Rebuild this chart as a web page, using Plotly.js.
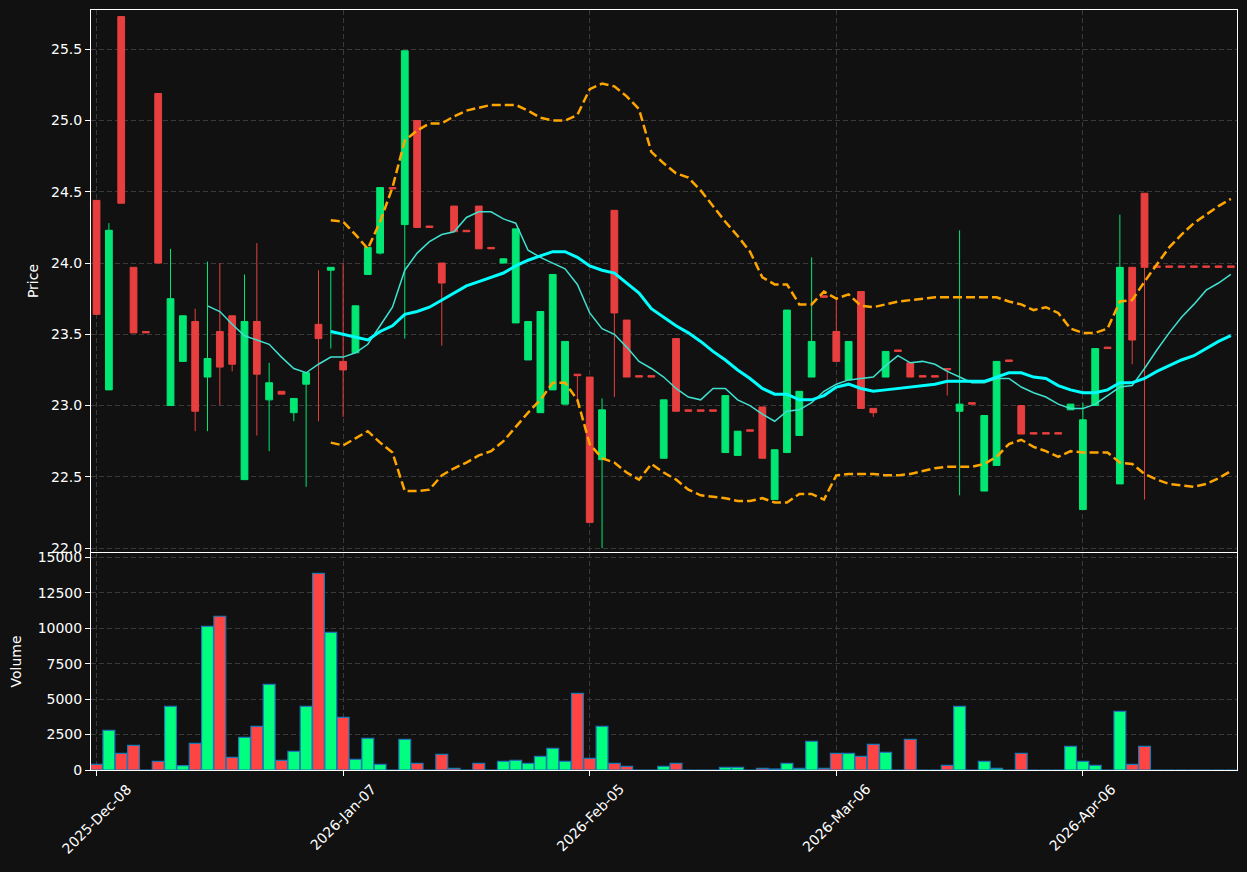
<!DOCTYPE html>
<html>
<head>
<meta charset="utf-8">
<script src="https://cdn.plot.ly/plotly-3.0.1.min.js"></script>
<style>html,body{margin:0;padding:0;background:#111111;}</style>
</head>
<body>
<div id="chart" style="width:1247px;height:872px;"></div>
<script>
const dates = [
  '2025-12-08','2025-12-09','2025-12-10','2025-12-11','2025-12-12',
  '2025-12-15','2025-12-16','2025-12-17','2025-12-18','2025-12-19',
  '2025-12-22','2025-12-23','2025-12-24','2025-12-26','2025-12-29',
  '2025-12-30','2025-12-31','2026-01-02','2026-01-05','2026-01-06',
  '2026-01-07','2026-01-08','2026-01-09','2026-01-12','2026-01-13',
  '2026-01-14','2026-01-15','2026-01-16','2026-01-20','2026-01-21',
  '2026-01-22','2026-01-23','2026-01-26','2026-01-27','2026-01-28',
  '2026-01-29','2026-01-30','2026-02-02','2026-02-03','2026-02-04',
  '2026-02-05','2026-02-06','2026-02-09','2026-02-10','2026-02-11',
  '2026-02-12','2026-02-13','2026-02-17','2026-02-18','2026-02-19',
  '2026-02-20','2026-02-23','2026-02-24','2026-02-25','2026-02-26',
  '2026-02-27','2026-03-02','2026-03-03','2026-03-04','2026-03-05',
  '2026-03-06','2026-03-09','2026-03-10','2026-03-11','2026-03-12',
  '2026-03-13','2026-03-16','2026-03-17','2026-03-18','2026-03-19',
  '2026-03-20','2026-03-23','2026-03-24','2026-03-25','2026-03-26',
  '2026-03-27','2026-03-30','2026-03-31','2026-04-01','2026-04-02',
  '2026-04-06','2026-04-07','2026-04-08','2026-04-09','2026-04-10',
  '2026-04-13','2026-04-14','2026-04-15','2026-04-16','2026-04-17',
  '2026-04-20','2026-04-21','2026-04-22'
];

const openPrices = [
  24.44, 23.11, 25.73, 23.97, 23.52, 25.19, 23.00, 23.31, 23.59, 23.20,
  23.52, 23.63, 22.48, 23.59, 23.04, 23.10, 22.95, 23.15, 23.57, 23.95,
  23.31, 23.37, 23.92, 24.07, 24.53, 24.27, 25.00, 24.26, 24.00, 24.40,
  24.23, 24.40, 24.11, 24.00, 23.58, 23.32, 22.95, 23.11, 23.01, 23.22,
  23.20, 22.62, 24.37, 23.60, 23.21, 23.21, 22.63, 23.47, 22.97, 22.97,
  22.97, 22.67, 22.65, 22.83, 22.99, 22.34, 22.67, 22.79, 23.20, 23.77,
  23.52, 23.18, 23.80, 22.98, 23.20, 23.39, 23.30, 23.21, 23.21, 23.26,
  22.96, 23.02, 22.40, 22.58, 23.32, 23.00, 22.81, 22.81, 22.81, 22.97,
  22.27, 23.00, 23.41, 22.45, 23.97, 24.49, 23.98, 23.98, 23.98, 23.98,
  23.98, 23.98, 23.98
];
const highPrices = [
  24.44, 24.28, 25.73, 23.97, 23.52, 25.19, 24.10, 23.63, 23.68, 24.01,
  24.00, 23.63, 23.92, 24.14, 23.30, 23.10, 23.05, 23.23, 23.95, 23.97,
  24.00, 23.70, 24.11, 24.53, 24.53, 25.49, 25.00, 24.26, 24.00, 24.40,
  24.23, 24.40, 24.11, 24.03, 24.24, 23.59, 23.66, 23.92, 23.45, 23.22,
  23.20, 23.05, 24.37, 23.60, 23.21, 23.21, 23.04, 23.47, 22.97, 22.97,
  22.97, 23.07, 22.82, 22.83, 22.99, 22.69, 23.67, 23.10, 24.04, 23.77,
  23.76, 23.45, 23.80, 22.98, 23.38, 23.39, 23.30, 23.21, 23.21, 23.26,
  24.23, 23.02, 22.93, 23.31, 23.32, 23.00, 22.81, 22.81, 22.81, 23.01,
  23.02, 23.40, 23.41, 24.34, 23.97, 24.49, 23.98, 23.98, 23.98, 23.98,
  23.98, 23.98, 23.98
];
const lowPrices = [
  23.64, 23.11, 24.42, 23.51, 23.51, 24.00, 23.00, 23.31, 22.82, 22.82,
  23.00, 23.24, 22.48, 22.79, 22.68, 23.08, 22.89, 22.43, 22.89, 23.40,
  22.92, 23.37, 23.92, 24.06, 24.52, 23.47, 24.25, 24.25, 23.42, 24.22,
  24.22, 24.10, 24.10, 24.00, 23.58, 23.32, 22.95, 23.11, 23.01, 23.04,
  22.18, 22.00, 23.06, 23.20, 23.20, 23.20, 22.63, 22.96, 22.96, 22.96,
  22.96, 22.67, 22.65, 22.82, 22.63, 22.34, 22.67, 22.79, 23.20, 23.76,
  23.31, 23.18, 22.98, 22.92, 23.20, 23.38, 23.20, 23.20, 23.20, 23.07,
  22.37, 23.01, 22.40, 22.58, 23.31, 22.80, 22.80, 22.80, 22.80, 22.97,
  22.27, 23.00, 23.40, 22.45, 23.29, 22.34, 23.97, 23.97, 23.97, 23.97,
  23.97, 23.97, 23.97
];
const closePrices = [
  23.64, 24.23, 24.42, 23.51, 23.51, 24.00, 23.75, 23.63, 22.96, 23.33,
  23.27, 23.29, 23.59, 23.22, 23.16, 23.08, 23.05, 23.23, 23.47, 23.97,
  23.25, 23.70, 24.11, 24.53, 24.52, 25.49, 24.25, 24.25, 23.86, 24.22,
  24.22, 24.10, 24.10, 24.03, 24.24, 23.59, 23.66, 23.92, 23.45, 23.21,
  22.18, 22.97, 23.65, 23.20, 23.20, 23.20, 23.04, 22.96, 22.96, 22.96,
  22.96, 23.07, 22.82, 22.82, 22.63, 22.69, 23.67, 23.10, 23.45, 23.76,
  23.31, 23.45, 22.98, 22.95, 23.38, 23.38, 23.20, 23.20, 23.20, 23.25,
  23.01, 23.01, 22.93, 23.31, 23.31, 22.80, 22.80, 22.80, 22.80, 23.01,
  22.90, 23.40, 23.40, 23.97, 23.46, 23.97, 23.97, 23.97, 23.97, 23.97,
  23.97, 23.97, 23.97
];
const volumes = [
  400, 2800, 1175, 1740, 0, 610, 4490, 305, 1880, 10130,
  10840, 895, 2300, 3080, 6040, 680, 1315, 4490, 13870, 9710,
  3715, 750, 2235, 400, 0, 2160, 470, 0, 1105, 120,
  0, 470, 0, 610, 680, 470, 965, 1530, 610, 5410,
  820, 3080, 470, 260, 0, 0, 260, 470, 0, 0,
  0, 190, 190, 0, 120, 70, 470, 120, 2020, 120,
  1175, 1175, 965, 1810, 1245, 0, 2160, 0, 0, 330,
  4490, 0, 610, 120, 0, 1175, 0, 0, 0, 1670,
  610, 330, 0, 4140, 400, 1670, 0, 0, 0, 0,
  0, 0, 0
];
// moving average 10 (starts at bar 9)
const ma10Values = [
  23.70, 23.66, 23.57, 23.49, 23.46, 23.43, 23.34, 23.26, 23.23, 23.29,
  23.34, 23.34, 23.37, 23.43, 23.56, 23.69, 23.95, 24.07, 24.15, 24.20,
  24.22, 24.32, 24.36, 24.36, 24.31, 24.28, 24.09, 24.04, 24.00, 23.96,
  23.85, 23.65, 23.54, 23.50, 23.41, 23.31, 23.26, 23.20, 23.12, 23.06,
  23.04, 23.12, 23.12, 23.04, 23.00, 22.94, 22.89, 22.96, 22.97, 23.02,
  23.10, 23.15, 23.18, 23.19, 23.20, 23.28, 23.35, 23.30, 23.31, 23.29,
  23.24, 23.20, 23.16, 23.16, 23.19, 23.19, 23.13, 23.09, 23.06, 23.01,
  22.98, 22.98, 23.01, 23.07, 23.13, 23.14, 23.26, 23.39, 23.51, 23.62,
  23.71, 23.81, 23.86, 23.92
];
// moving average 20 / bollinger middle (starts at bar 19)
const ma20Values = [
  23.52, 23.50, 23.48, 23.46, 23.52, 23.56, 23.64, 23.66, 23.69, 23.74,
  23.79, 23.84, 23.87, 23.90, 23.93, 23.98, 24.02, 24.05, 24.08, 24.08,
  24.04, 23.98, 23.95, 23.93, 23.86, 23.79, 23.68, 23.62, 23.56, 23.51,
  23.45, 23.38, 23.32, 23.25, 23.19, 23.12, 23.08, 23.08, 23.04, 23.04,
  23.07, 23.13, 23.15, 23.12, 23.10, 23.11, 23.12, 23.13, 23.14, 23.15,
  23.17, 23.17, 23.17, 23.17, 23.20, 23.23, 23.23, 23.20, 23.19, 23.14,
  23.11, 23.09, 23.09, 23.11, 23.16, 23.16, 23.19, 23.24, 23.28, 23.32,
  23.35, 23.40, 23.45, 23.49
];
const bbUpperValues = [
  24.30, 24.29, 24.20, 24.10, 24.29, 24.53, 24.86, 24.93, 24.98, 24.98,
  25.03, 25.07, 25.09, 25.11, 25.11, 25.11, 25.07, 25.02, 25.00, 25.00,
  25.04, 25.22, 25.26, 25.24, 25.17, 25.08, 24.78, 24.70, 24.63, 24.60,
  24.51, 24.40, 24.29, 24.19, 24.08, 23.90, 23.85, 23.85, 23.71, 23.71,
  23.80, 23.75, 23.78, 23.70, 23.69, 23.71, 23.73, 23.74, 23.75, 23.76,
  23.76, 23.76, 23.76, 23.76, 23.76, 23.73, 23.71, 23.67, 23.69, 23.65,
  23.54, 23.51, 23.51, 23.54, 23.73, 23.74, 23.87, 23.99, 24.11, 24.20,
  24.28, 24.34, 24.40, 24.45
];
const bbLowerValues = [
  22.74, 22.72, 22.77, 22.82, 22.74, 22.67, 22.40, 22.40, 22.41, 22.51,
  22.56, 22.60, 22.65, 22.68, 22.75, 22.85, 22.95, 23.04, 23.16, 23.16,
  23.04, 22.73, 22.63, 22.60, 22.53, 22.48, 22.59, 22.53, 22.48, 22.41,
  22.37, 22.36, 22.35, 22.33, 22.33, 22.35, 22.32, 22.32, 22.38, 22.38,
  22.34, 22.51, 22.52, 22.52, 22.52, 22.51, 22.51, 22.52, 22.54, 22.56,
  22.57, 22.57, 22.57, 22.59, 22.64, 22.73, 22.76, 22.71, 22.68, 22.64,
  22.68, 22.67, 22.67, 22.67, 22.60, 22.59, 22.52, 22.48, 22.45, 22.44,
  22.43, 22.45, 22.49, 22.54
];
const tickDates = ['2025-12-08','2026-01-07','2026-02-05','2026-03-06','2026-04-06'];
const tickLabels = ['2025-Dec-08','2026-Jan-07','2026-Feb-05','2026-Mar-06','2026-Apr-06'];
const volumeTicks = [0, 2500, 5000, 7500, 10000, 12500, 15000];

const UP_CANDLE = '#02e774', DOWN_CANDLE = '#e73f3f';
const UP_VOL = '#00ff7f', DOWN_VOL = '#ff4444';
const FONT = 'DejaVu Sans';

function padFront(total, arr) {
  return Array(total - arr.length).fill(null).concat(arr);
}
const n = dates.length;
const ma10 = padFront(n, ma10Values);
const ma20 = padFront(n, ma20Values);
const bbUpper = padFront(n, bbUpperValues);
const bbLower = padFront(n, bbLowerValues);
const volColors = closePrices.map((c, i) => c >= openPrices[i] ? UP_VOL : DOWN_VOL);

const traces = [
  {
    type: 'bar', x: dates, y: volumes, xaxis: 'x', yaxis: 'y',
    width: 0.96,
    marker: { color: volColors, line: { color: '#1f77b4', width: 1.2 } },
    showlegend: false
  },
  {
    type: 'candlestick', x: dates, open: openPrices, high: highPrices,
    low: lowPrices, close: closePrices, xaxis: 'x2', yaxis: 'y2',
    increasing: { line: { color: UP_CANDLE, width: 1 }, fillcolor: UP_CANDLE },
    decreasing: { line: { color: DOWN_CANDLE, width: 1 }, fillcolor: DOWN_CANDLE },
    whiskerwidth: 0, showlegend: false
  },
  {
    type: 'scatter', mode: 'lines', x: dates, y: ma10, xaxis: 'x2', yaxis: 'y2',
    line: { color: '#40e0d0', width: 1.5 }, showlegend: false
  },
  {
    type: 'scatter', mode: 'lines', x: dates, y: ma20, xaxis: 'x2', yaxis: 'y2',
    line: { color: '#00ffff', width: 3 }, showlegend: false
  },
  {
    type: 'scatter', mode: 'lines', x: dates, y: bbUpper, xaxis: 'x2', yaxis: 'y2',
    line: { color: '#ffa500', width: 2.5, dash: '9px,4px' }, showlegend: false
  },
  {
    type: 'scatter', mode: 'lines', x: dates, y: bbLower, xaxis: 'x2', yaxis: 'y2',
    line: { color: '#ffa500', width: 2.5, dash: '9px,4px' }, showlegend: false
  }
];

const gridColor = '#3a3a3a';
const tickFont = { family: FONT, size: 14, color: '#ffffff' };
const commonX = {
  type: 'category',
  range: [-0.45, 92.5],
  tickmode: 'array',
  tickvals: tickDates,
  showticklabels: false,
  showgrid: true, gridcolor: gridColor, griddash: '5px,3px', gridwidth: 1,
  showline: true, linecolor: '#ffffff', linewidth: 1, mirror: true,
  zeroline: false,
  rangeslider: { visible: false },
  fixedrange: true
};

const annotations = tickDates.map((d, i) => ({
  x: d, xref: 'x', y: 0, yref: 'paper',
  text: tickLabels[i], showarrow: false,
  textangle: -45, xanchor: 'center', yanchor: 'top', yshift: -8,
  font: tickFont
}));

const layout = {
  width: 1247, height: 872,
  paper_bgcolor: '#111111', plot_bgcolor: '#111111',
  font: { family: FONT, size: 14, color: '#ffffff' },
  margin: { l: 91, r: 10, t: 10, b: 102 },
  showlegend: false,
  boxgap: 0.45, boxgroupgap: 0,
  xaxis: Object.assign({}, commonX, { anchor: 'y', ticks: 'outside', ticklen: 5, tickcolor: '#ffffff', tickwidth: 1 }),
  xaxis2: Object.assign({}, commonX, { anchor: 'y2', matches: 'x', ticks: '' }),
  yaxis: {
    domain: [0, 0.2855], anchor: 'x', range: [0, 15300],
    tickmode: 'array', tickvals: volumeTicks,
    ticktext: volumeTicks.map(String),
    tickfont: tickFont,
    ticks: 'outside', ticklen: 5, tickcolor: '#ffffff',
    showgrid: true, gridcolor: gridColor, griddash: '5px,3px',
    showline: true, linecolor: '#ffffff', linewidth: 1, mirror: true,
    zeroline: false, fixedrange: true,
    title: { text: 'Volume', font: { family: FONT, size: 14, color: '#ffffff' }, standoff: 12 }
  },
  yaxis2: {
    domain: [0.2868, 1], anchor: 'x2', range: [21.972, 25.776],
    tick0: 22, dtick: 0.5, tickformat: '.1f',
    tickfont: tickFont,
    ticks: 'outside', ticklen: 5, tickcolor: '#ffffff',
    showgrid: true, gridcolor: gridColor, griddash: '5px,3px',
    showline: true, linecolor: '#ffffff', linewidth: 1, mirror: true,
    zeroline: false, fixedrange: true,
    title: { text: 'Price', font: { family: FONT, size: 14, color: '#ffffff' }, standoff: 9 }
  },
  annotations: annotations
};

Plotly.newPlot('chart', traces, layout, { displayModeBar: false, staticPlot: true });
</script>
</body>
</html>
